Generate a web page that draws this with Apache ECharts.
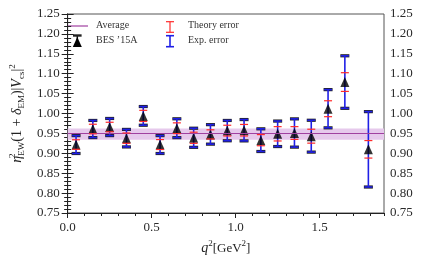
<!DOCTYPE html>
<html>
<head>
<meta charset="utf-8">
<script src="https://cdn.jsdelivr.net/npm/echarts@6/dist/echarts.min.js"></script>
<style>html,body{margin:0;padding:0;background:#fff}#c{width:424px;height:262px}</style>
</head>
<body>
<div id="c"></div>
<script>
// ---- data ----
const q2 = [0.05,0.15,0.25,0.35,0.45,0.55,0.65,0.75,0.85,0.95,1.05,1.15,1.25,1.35,1.45,1.55,1.65,1.79];
const values = [0.922,0.961,0.966,0.938,0.994,0.922,0.963,0.939,0.9475,0.957,0.958,0.933,0.949,0.951,0.943,1.012,1.079,0.910];
const expErr = [0.0225,0.0215,0.0215,0.022,0.0235,0.0225,0.0237,0.024,0.0245,0.0255,0.0268,0.0285,0.032,0.0355,0.040,0.048,0.066,0.0947];
const theoryErr = [0.012,0.012,0.012,0.013,0.014,0.0125,0.0135,0.014,0.0115,0.0135,0.0145,0.014,0.018,0.016,0.0175,0.020,0.0235,0.022];
const average = 0.948;
const averageErr = 0.014;
const xRange = [0, 1.883];
const yRange = [0.75, 1.25];
const xTickLabels = ['0.0','0.5','1.0','1.5'];

const FONT = 'Liberation Serif';
const PURPLE = '#a040a0';
const BAND = '#e6c9ec';
const RED = '#ff2a2a';
const BLUE = '#1f1fe6';

const expData = q2.map((x,i)=>[x, values[i], expErr[i]]);
const thData = q2.map((x,i)=>[x, values[i], theoryErr[i]]);
const ptData = q2.map((x,i)=>[x, values[i]]);

function expRender(params, api){
  const x = api.value(0), y = api.value(1), e = api.value(2);
  const t = api.coord([x, y+e]), b = api.coord([x, y-e]);
  const cw = 4;
  return {type:'group', children:[
    {type:'line', shape:{x1:t[0]-cw-0.5,y1:t[1],x2:t[0]+cw+0.5,y2:t[1]}, style:{stroke:'#222',lineWidth:3.2}},
    {type:'line', shape:{x1:b[0]-cw-0.5,y1:b[1],x2:b[0]+cw+0.5,y2:b[1]}, style:{stroke:'#222',lineWidth:3.2}},
    {type:'line', shape:{x1:t[0],y1:t[1],x2:b[0],y2:b[1]}, style:{stroke:BLUE,lineWidth:1.6}},
    {type:'line', shape:{x1:t[0]-cw,y1:t[1],x2:t[0]+cw,y2:t[1]}, style:{stroke:BLUE,lineWidth:1.6}},
    {type:'line', shape:{x1:b[0]-cw,y1:b[1],x2:b[0]+cw,y2:b[1]}, style:{stroke:BLUE,lineWidth:1.6}}
  ]};
}
function thRender(params, api){
  const x = api.value(0), y = api.value(1), e = api.value(2);
  const t = api.coord([x, y+e]), b = api.coord([x, y-e]);
  const cw = 4;
  return {type:'group', children:[
    {type:'line', shape:{x1:t[0]-cw,y1:t[1],x2:t[0]+cw,y2:t[1]}, style:{stroke:RED,lineWidth:1.2}},
    {type:'line', shape:{x1:b[0]-cw,y1:b[1],x2:b[0]+cw,y2:b[1]}, style:{stroke:RED,lineWidth:1.2}}
  ]};
}

const tickLabel = {fontFamily:FONT, fontSize:13, color:'#2a2a2a'};

const option = {
  animation:false,
  grid:{left:58, right:40, top:14, bottom:49, show:true, borderColor:'#555', borderWidth:1},
  xAxis:[
    {type:'value', min:xRange[0], max:xRange[1], interval:0.5, position:'bottom',
     axisLine:{lineStyle:{color:'#222'}},
     axisTick:{show:true, inside:false, length:5, lineStyle:{color:'#222'}},
     axisLabel:Object.assign({margin:8, showMaxLabel:false, formatter:(v)=>{
        const s = v.toFixed(1); return xTickLabels.indexOf(s)>=0 ? s : '';}}, tickLabel),
     splitLine:{show:false},
     name:'{i|q}{s|2}{r|[GeV}{s|2}{r|]}', nameLocation:'middle', nameGap:20,
     nameTextStyle:{fontFamily:FONT, fontSize:13, color:'#222', rich:{
        i:{fontFamily:FONT, fontStyle:'italic', fontSize:14, color:'#222', lineHeight:16, verticalAlign:'bottom'},
        r:{fontFamily:FONT, fontSize:13, color:'#222', lineHeight:16, verticalAlign:'bottom'},
        s:{fontFamily:FONT, fontSize:9, color:'#222', lineHeight:16, verticalAlign:'top'}}}
    },
    {type:'value', min:xRange[0], max:xRange[1], interval:0.1, position:'bottom',
     axisLine:{show:false}, axisLabel:{show:false}, splitLine:{show:false},
     axisTick:{show:true, inside:false, length:3, lineStyle:{color:'#222'}}}
  ],
  yAxis:[
    {type:'value', min:yRange[0], max:yRange[1], interval:0.05, position:'left',
     axisLine:{show:true, lineStyle:{color:'#222'}},
     axisTick:{show:true, inside:false, length:6, lineStyle:{color:'#222'}},
     minorTick:{show:true, splitNumber:5, length:3.5, lineStyle:{color:'#222'}},
     axisLabel:Object.assign({margin:8, formatter:(v)=>v.toFixed(2)}, tickLabel),
     splitLine:{show:false},
     name:'{i|η}{sp|2}{sb|EW}{r|(1 + }{i|δ}{sb|EM}{r|)|}{i|V}{sb|cs}{r||}{s|2}',
     nameLocation:'middle', nameRotate:90, nameGap:36,
     nameTextStyle:{fontFamily:FONT, fontSize:13, color:'#222', rich:{
        i:{fontFamily:FONT, fontStyle:'italic', fontSize:14, color:'#222', lineHeight:18, verticalAlign:'middle'},
        r:{fontFamily:FONT, fontSize:14, color:'#222', lineHeight:18, verticalAlign:'middle'},
        s:{fontFamily:FONT, fontSize:9, color:'#222', lineHeight:18, verticalAlign:'top'},
        sp:{fontFamily:FONT, fontSize:9, color:'#222', lineHeight:18, verticalAlign:'top', width:0.1},
        sb:{fontFamily:FONT, fontSize:9, color:'#222', lineHeight:18, verticalAlign:'bottom'}}}
    },
    {type:'value', min:yRange[0], max:yRange[1], interval:0.05, position:'right',
     axisLine:{show:true, lineStyle:{color:'#222'}},
     axisTick:{show:true, inside:false, length:6, lineStyle:{color:'#222'}},
     minorTick:{show:true, splitNumber:5, length:3.5, lineStyle:{color:'#222'}},
     axisLabel:Object.assign({margin:6, formatter:(v)=>v.toFixed(2)}, tickLabel),
     splitLine:{show:false}}
  ],
  series:[
    {type:'line', name:'Average', data:[], xAxisIndex:0, yAxisIndex:0, z:1,
     markArea:{silent:true, itemStyle:{color:BAND}, data:[[{yAxis:average+averageErr},{yAxis:average-averageErr}]]},
     markLine:{silent:true, symbol:'none', label:{show:false}, lineStyle:{color:PURPLE, width:1.2, type:'solid'},
       data:[{yAxis:average}]}},
    {type:'custom', name:'Exp. error', renderItem:expRender, data:expData, xAxisIndex:0, yAxisIndex:0, z:3,
     encode:{x:0,y:1}},
    {type:'scatter', name:'BES ’15A', data:ptData, symbol:'triangle', symbolSize:[9,10],
     itemStyle:{color:'#000'}, xAxisIndex:0, yAxisIndex:0, z:4},
    {type:'custom', name:'Theory error', renderItem:thRender, data:thData, xAxisIndex:0, yAxisIndex:0, z:5,
     encode:{x:0,y:1}}
  ],
  graphic:[
    {type:'line', shape:{x1:67,y1:26,x2:88,y2:26}, style:{stroke:PURPLE, lineWidth:1.2}},
    {type:'text', left:96, top:20, style:{text:'Average', font:'10px "Liberation Serif"', fill:'#333'}},
    // BES legend icon
    {type:'line', shape:{x1:77.3,y1:35.5,x2:77.3,y2:47}, style:{stroke:'#111', lineWidth:1.5}},
    {type:'line', shape:{x1:73,y1:35.5,x2:81.6,y2:35.5}, style:{stroke:'#222', lineWidth:2.4}},
    {type:'polygon', shape:{points:[[77.3,37],[72.8,47],[81.8,47]]}, style:{fill:'#000'}},
    {type:'text', left:96, top:35, style:{text:'BES ’15A', font:'10px "Liberation Serif"', fill:'#333'}},
    // Theory
    {type:'line', shape:{x1:170,y1:21.7,x2:170,y2:32.3}, style:{stroke:RED, lineWidth:1.2}},
    {type:'line', shape:{x1:166,y1:21.7,x2:174,y2:21.7}, style:{stroke:RED, lineWidth:1.2}},
    {type:'line', shape:{x1:166,y1:32.3,x2:174,y2:32.3}, style:{stroke:RED, lineWidth:1.2}},
    {type:'text', left:188, top:20, style:{text:'Theory error', font:'10px "Liberation Serif"', fill:'#333'}},
    // Exp
    {type:'line', shape:{x1:170,y1:35.7,x2:170,y2:46.7}, style:{stroke:BLUE, lineWidth:1.6}},
    {type:'line', shape:{x1:166,y1:35.7,x2:174,y2:35.7}, style:{stroke:BLUE, lineWidth:1.6}},
    {type:'line', shape:{x1:166,y1:46.7,x2:174,y2:46.7}, style:{stroke:BLUE, lineWidth:1.6}},
    {type:'text', left:188, top:35, style:{text:'Exp. error', font:'10px "Liberation Serif"', fill:'#333'}}
  ]
};
const chart = echarts.init(document.getElementById('c'), null, {renderer:'canvas'});
chart.setOption(option);
</script>
</body>
</html>
